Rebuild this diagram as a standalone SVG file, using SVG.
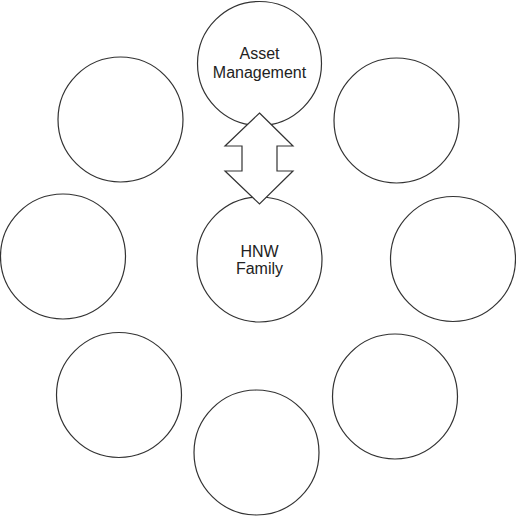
<svg xmlns="http://www.w3.org/2000/svg" width="516" height="516" viewBox="0 0 516 516">
<style>
.c{fill:#fff;stroke:#333;stroke-width:1.2}
.t{font-family:"Liberation Sans",Arial,sans-serif;font-size:16px;fill:#222;text-anchor:middle}
</style>
<rect width="516" height="516" fill="#fff"/>
<g id="n-ul"><circle class="c" cx="120.5" cy="119.5" r="62.5"/></g>
<g id="n-ur"><circle class="c" cx="396.5" cy="120.5" r="62.5"/></g>
<g id="n-l"><circle class="c" cx="63" cy="256.5" r="62.5"/></g>
<g id="n-r"><circle class="c" cx="453" cy="259" r="62.5"/></g>
<g id="n-bl"><circle class="c" cx="119" cy="395" r="62.5"/></g>
<g id="n-b"><circle class="c" cx="256.5" cy="452.5" r="62.5"/></g>
<g id="n-br"><circle class="c" cx="395" cy="396.5" r="62.5"/></g>
<g id="n-am"><circle class="c" cx="259.5" cy="63.5" r="62"/>
<text class="t" x="259.5" y="59">Asset</text><text class="t" x="259.5" y="78">Management</text></g>
<g id="n-hnw"><circle class="c" cx="259.5" cy="259.5" r="62.5"/>
<text class="t" x="259.5" y="257">HNW</text><text class="t" x="259.5" y="274">Family</text></g>
<g id="connectors">
<polygon class="c" points="259.5,113 293,146 277,146 277,171 293,171 259.5,204 225,171 242,171 242,146 225,146"/>
</g>
</svg>
